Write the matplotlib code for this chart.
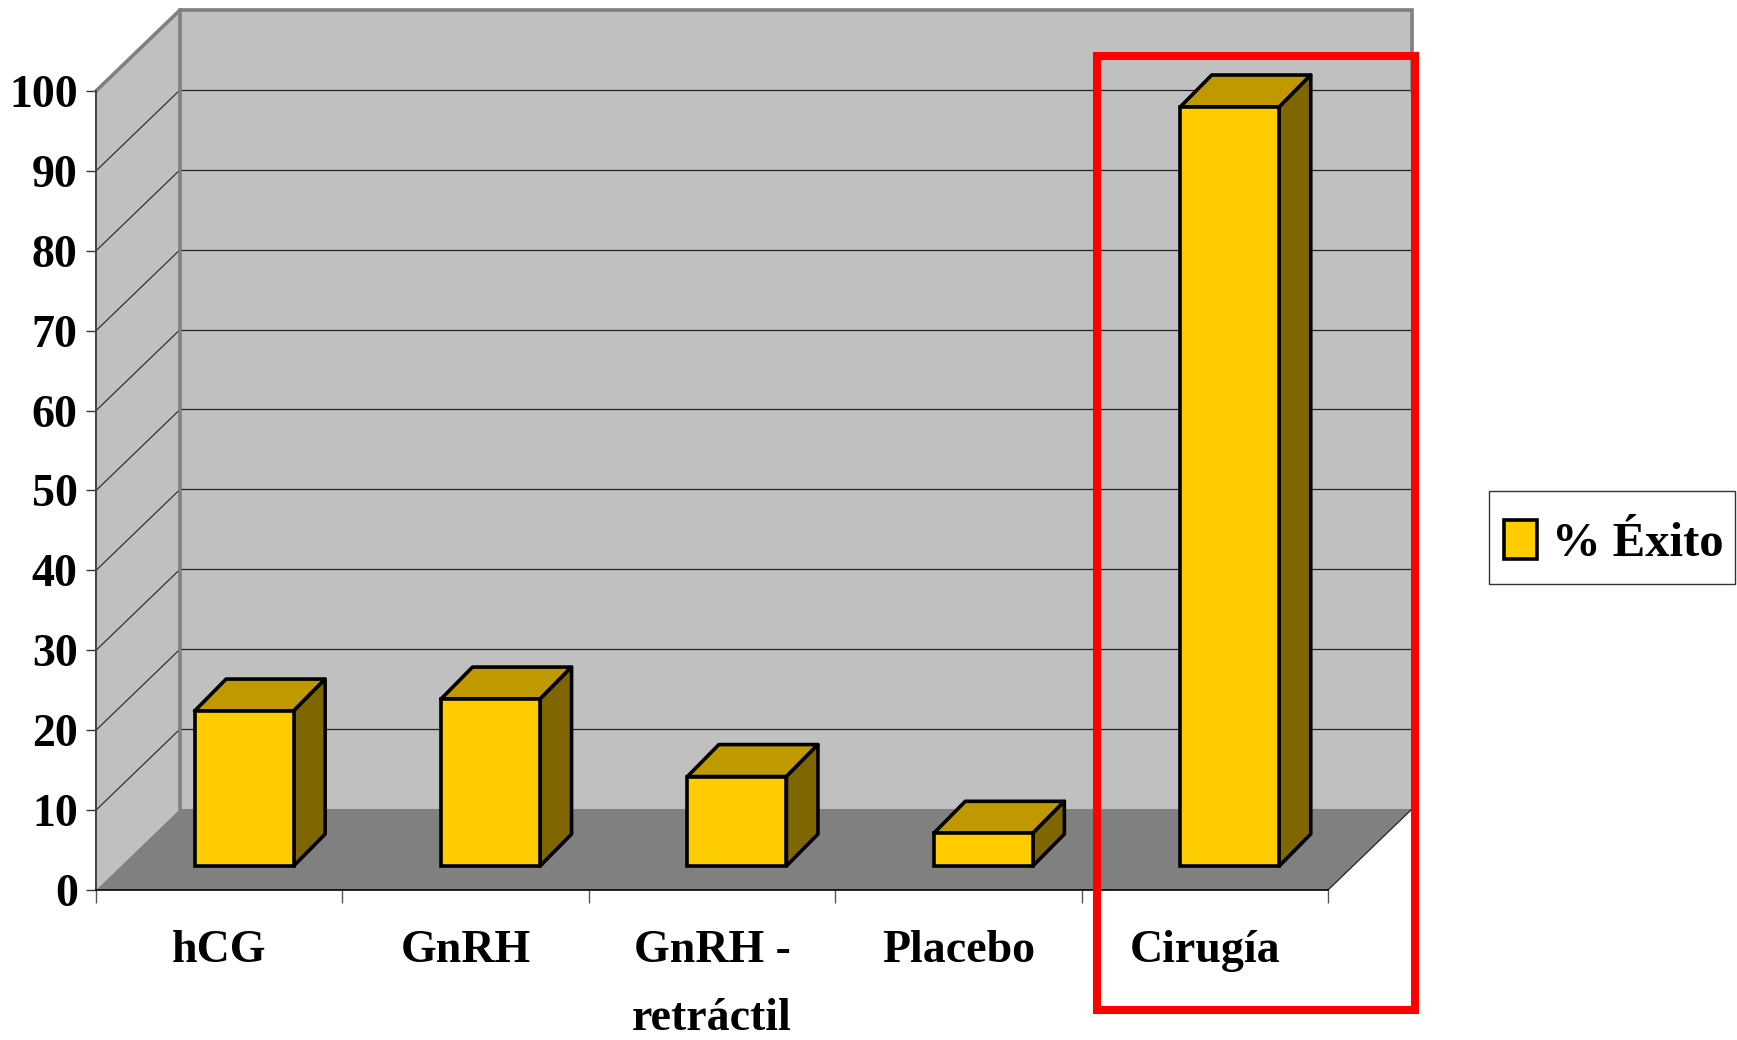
import matplotlib
matplotlib.use("Agg")
import matplotlib.pyplot as plt
from matplotlib.patches import Polygon, Rectangle, Patch

plt.rcParams["font.family"] = ["Liberation Serif", "DejaVu Serif"]
plt.rcParams["font.weight"] = "bold"

# === Data ===
categorias = ["hCG", "GnRH", "GnRH -\nretráctil", "Placebo", "Cirugía"]
exito = [19.4, 20.9, 11.2, 4.1, 95.0]
ticks_y = [0, 10, 20, 30, 40, 50, 60, 70, 80, 90, 100]
serie = "% Éxito"

# === Style ===
AMARILLO = "#ffcc00"
AMARILLO_TOP = "#c09900"
AMARILLO_SIDE = "#806600"
PARED = "#c0c0c0"
GRIS = "#808080"

# depth of the box, in axis units
FONDO_X = 0.341
FONDO_Y = 10.14
# bars sit part way into the depth
BAR_DX = 0.101
BAR_BASE = 3.0
BAR_W = 0.402
BAR_PX = 0.128
BAR_PY = 4.0
BAR_LW = 2.6

W, H = 1737, 1040
fig = plt.figure(figsize=(W / 100, H / 100), dpi=100, facecolor="white")
ax = fig.add_axes([96 / W, (H - 890) / H, (1328 - 96) / W, (890 - 91) / H])
ax.set_xlim(0, len(categorias))
ax.set_ylim(0, 100)
ax.patch.set_visible(False)

n = len(categorias)
top = 100 + FONDO_Y

# walls and floor
ax.add_patch(Polygon([(FONDO_X, FONDO_Y), (n + FONDO_X, FONDO_Y), (n + FONDO_X, top), (FONDO_X, top)],
                     fc=PARED, ec="none", zorder=1, clip_on=False))
ax.add_patch(Polygon([(0, 0), (FONDO_X, FONDO_Y), (FONDO_X, top), (0, 100)],
                     fc=PARED, ec="none", zorder=1, clip_on=False))
ax.add_patch(Polygon([(0, 0), (n, 0), (n + FONDO_X, FONDO_Y), (FONDO_X, FONDO_Y)],
                     fc=GRIS, ec="none", zorder=1, clip_on=False))

# gridlines on the back and side walls
for v in ticks_y[1:]:
    ax.plot([FONDO_X, n + FONDO_X], [v + FONDO_Y, v + FONDO_Y], color="#222222", lw=0.9, zorder=2, clip_on=False)
    ax.plot([0, FONDO_X], [v, v + FONDO_Y], color="#222222", lw=0.8, zorder=2, clip_on=False)

# wall borders
ax.plot([0, FONDO_X, n + FONDO_X, n + FONDO_X], [100, top, top, 100], color=GRIS, lw=2.6,
        zorder=2.2, clip_on=False, solid_joinstyle="miter")
ax.plot([FONDO_X, FONDO_X], [FONDO_Y, top], color=GRIS, lw=2.6, zorder=2.2, clip_on=False)
ax.plot([n, n + FONDO_X], [0, FONDO_Y], color="#222222", lw=0.9, zorder=2.2, clip_on=False)

# bars
for i, v in enumerate(exito):
    x0 = i + 0.5 + BAR_DX - BAR_W / 2
    x1 = x0 + BAR_W
    y1 = BAR_BASE + v
    ax.add_patch(Polygon([(x0, y1), (x1, y1), (x1 + BAR_PX, y1 + BAR_PY), (x0 + BAR_PX, y1 + BAR_PY)],
                         fc=AMARILLO_TOP, ec="black", lw=BAR_LW, zorder=3, joinstyle="round", clip_on=False))
    ax.add_patch(Polygon([(x1, BAR_BASE), (x1 + BAR_PX, BAR_BASE + BAR_PY), (x1 + BAR_PX, y1 + BAR_PY), (x1, y1)],
                         fc=AMARILLO_SIDE, ec="black", lw=BAR_LW, zorder=3, joinstyle="round", clip_on=False))
    ax.bar(x0, v, width=BAR_W, bottom=BAR_BASE, align="edge", color=AMARILLO, edgecolor="black",
           linewidth=BAR_LW, zorder=3.2, clip_on=False)

# axes
for s in ["top", "right"]:
    ax.spines[s].set_visible(False)
ax.spines["left"].set_color("#444444")
ax.spines["left"].set_linewidth(1.4)
ax.spines["bottom"].set_color("black")
ax.spines["bottom"].set_linewidth(1.2)

ax.set_yticks(ticks_y)
ax.tick_params(axis="y", length=7.2, width=1.0, color="#333333", pad=6, labelsize=33)
ax.set_xticks(range(n + 1))
ax.set_xticklabels([])
ax.tick_params(axis="x", which="major", length=9, width=1.0, color="#555555")
ax.set_xticks([i + 0.5 for i in range(n)], minor=True)
ax.set_xticklabels(categorias, minor=True, linespacing=1.8)
ax.tick_params(axis="x", which="minor", length=0, pad=29, labelsize=33)

# red highlight around the surgery column
ax.add_patch(Rectangle((4.062, -15.0), 1.291, 119.4, fill=False, ec="#ff0000", lw=5.8,
                       zorder=5, joinstyle="miter", clip_on=False))

# legend, frame drawn apart because it is taller than the entry needs
fig.add_artist(Rectangle((1489 / W, (H - 584) / H), (1735 - 1489) / W, 93 / H, fc="white", ec="#333333",
                         lw=1.0, transform=fig.transFigure))
handle = Patch(fc=AMARILLO, ec="black", lw=2.6)
leg = fig.legend([handle], [serie], loc="center left", bbox_to_anchor=(1489 / W, (H - 543) / H),
                 borderaxespad=0, fontsize=35, handlelength=0.68, handleheight=0.85, handletextpad=0.32,
                 borderpad=0.3, frameon=False)

plt.savefig("out.png", dpi=100, facecolor="white")
